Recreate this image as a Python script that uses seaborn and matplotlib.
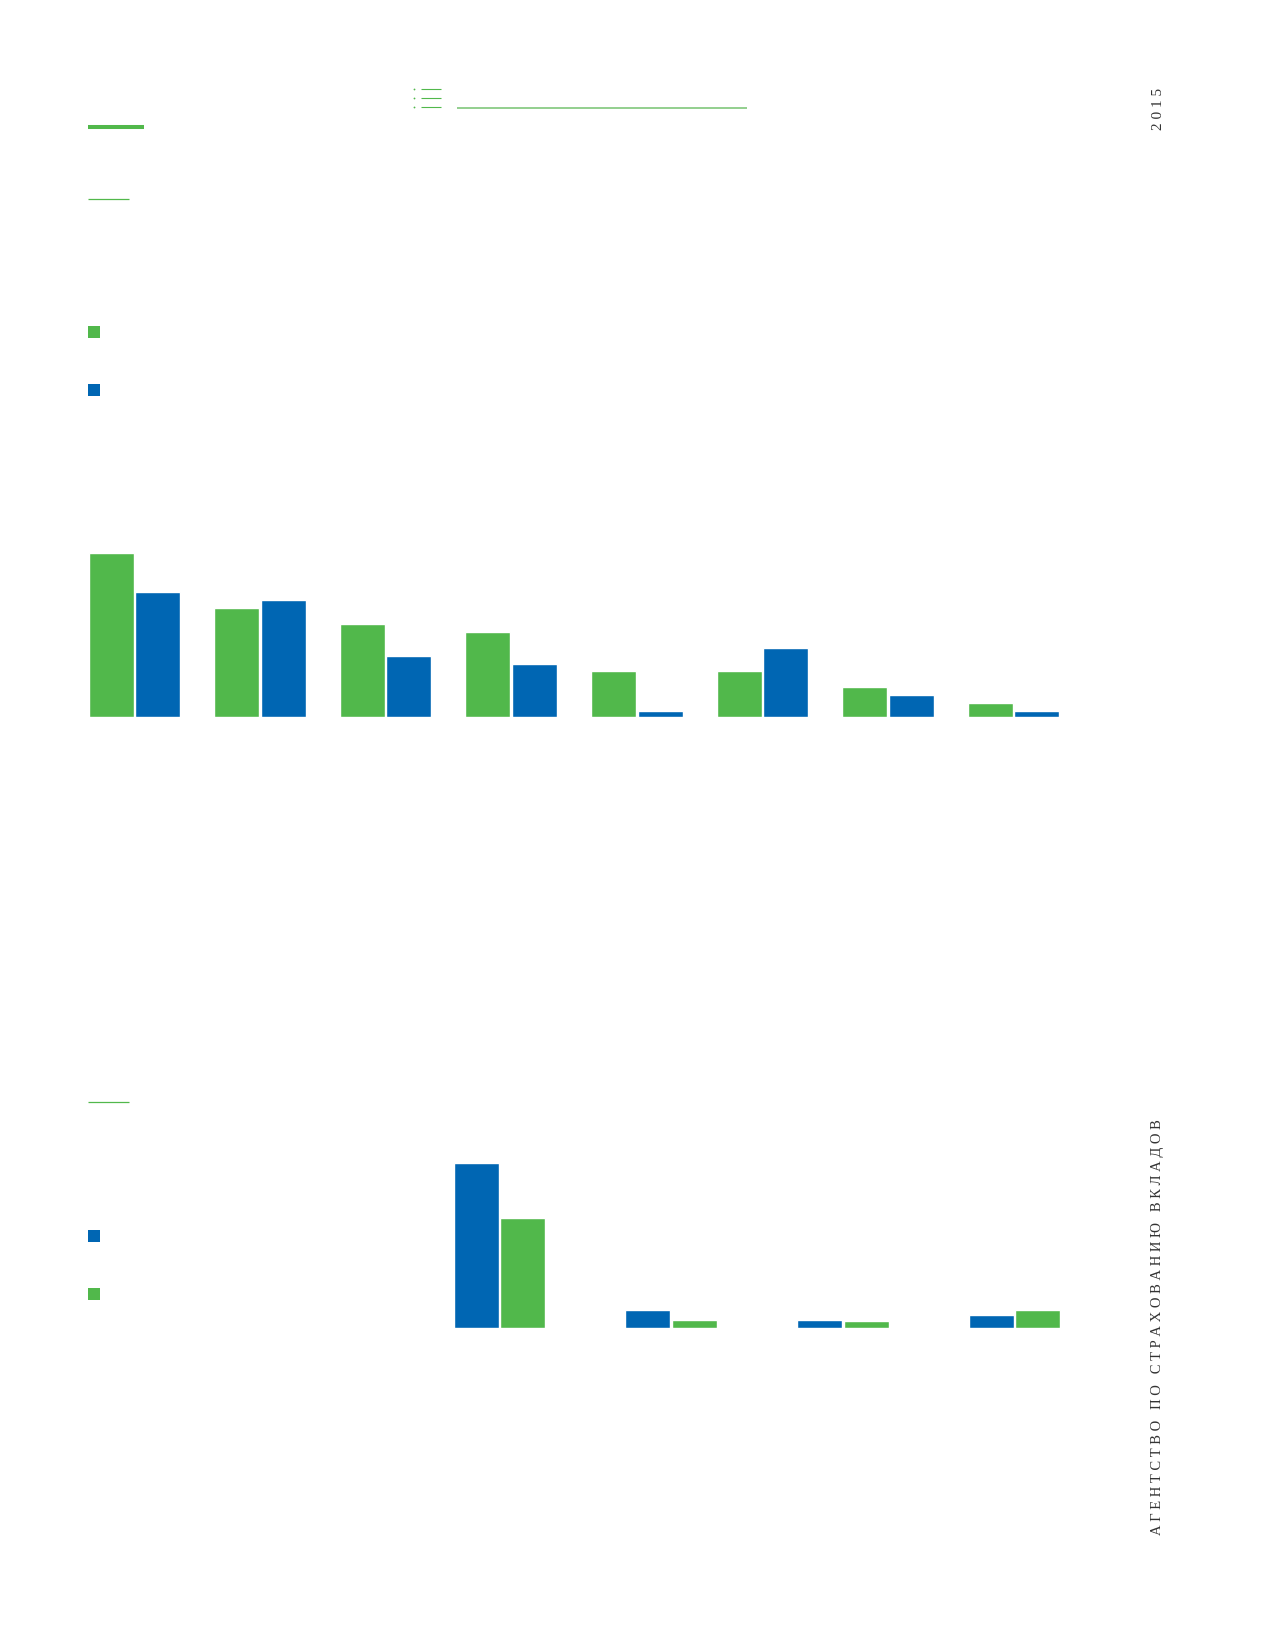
import matplotlib
matplotlib.use("Agg")
import matplotlib.pyplot as plt
from matplotlib.lines import Line2D
from matplotlib.patches import Rectangle
import pandas as pd
import seaborn as sns

GREEN = "#51b84b"
BLUE = "#0066b3"
LIGHT_GREEN = "#93cf8e"

# chart 1: eight groups, green series first
groups_top = ["1", "2", "3", "4", "5", "6", "7", "8"]
green_top = [100, 66.5, 56.7, 51.8, 28.0, 28.0, 18.3, 8.5]
blue_top = [76.2, 71.3, 37.2, 32.3, 3.7, 42.1, 13.4, 3.7]

# chart 2: four groups, blue series first
groups_bottom = ["1", "2", "3", "4"]
blue_bottom = [100, 10.9, 4.8, 7.9]
green_bottom = [66.7, 4.8, 4.2, 10.9]

W, H = 1268, 1652

sns.set_theme(style="white")
fig = plt.figure(figsize=(W / 100, H / 100), dpi=100)
fig.patch.set_facecolor("white")


def fx(x):
    return x / W


def fy(y):
    return 1 - y / H


def add_axes_px(left, top, right, bottom):
    return fig.add_axes([fx(left), fy(bottom), (right - left) / W, (bottom - top) / H])


def hline(x0, x1, y, color, lw):
    fig.add_artist(Line2D([fx(x0), fx(x1)], [fy(y), fy(y)], color=color, lw=lw,
                          solid_capstyle="butt"))


def square(x, y, color, size=12):
    fig.add_artist(Rectangle((fx(x), fy(y + size)), size / W, size / H,
                             facecolor=color, edgecolor="none"))


# top chart
df1 = pd.DataFrame({
    "group": groups_top * 2,
    "series": ["green"] * len(groups_top) + ["blue"] * len(groups_top),
    "value": green_top + blue_top,
})
ax1 = add_axes_px(71.5, 553, 1076.5, 717)
sns.barplot(data=df1, x="group", y="value", hue="series", hue_order=["green", "blue"],
            palette={"green": GREEN, "blue": BLUE}, width=0.74, gap=0.03,
            saturation=1, legend=False, ax=ax1)
ax1.set_xlim(-0.5, 7.5)
ax1.set_ylim(0, 100)
ax1.axis("off")

# bottom chart
df2 = pd.DataFrame({
    "group": groups_bottom * 2,
    "series": ["blue"] * len(groups_bottom) + ["green"] * len(groups_bottom),
    "value": blue_bottom + green_bottom,
})
ax2 = add_axes_px(413.5, 1163, 1100.5, 1328)
sns.barplot(data=df2, x="group", y="value", hue="series", hue_order=["blue", "green"],
            palette={"green": GREEN, "blue": BLUE}, width=0.54, gap=0.03,
            saturation=1, legend=False, ax=ax2)
ax2.set_xlim(-0.5, 3.5)
ax2.set_ylim(0, 100)
ax2.axis("off")

# page decorations
hline(88, 144, 127, GREEN, 2.9)
hline(88, 129, 199, GREEN, 0.9)
hline(457, 747, 108, LIGHT_GREEN, 1.4)
for yy in (89, 98, 107):
    fig.add_artist(Line2D([fx(414)], [fy(yy)], marker="o", markersize=1.3,
                          color=GREEN, markeredgewidth=0))
    hline(421, 441, yy, GREEN, 0.8)

square(88, 326, GREEN)
square(88, 384, BLUE)

hline(88, 129, 1102, GREEN, 0.9)
square(88, 1230, BLUE)
square(88, 1288, GREEN)

fig.text(fx(1158), fy(109), "2 0 1 5", rotation=90, ha="center", va="center",
         fontsize=11, family="Liberation Serif", color="#333333")
agency = "   ".join(" ".join(word) for word in "АГЕНТСТВО ПО СТРАХОВАНИЮ ВКЛАДОВ".split())
fig.text(fx(1158), fy(1327), agency, rotation=90, ha="center", va="center",
         fontsize=10.5, family="Liberation Serif", color="#333333")

fig.savefig("out.png", dpi=100, facecolor="white")
plt.close(fig)
